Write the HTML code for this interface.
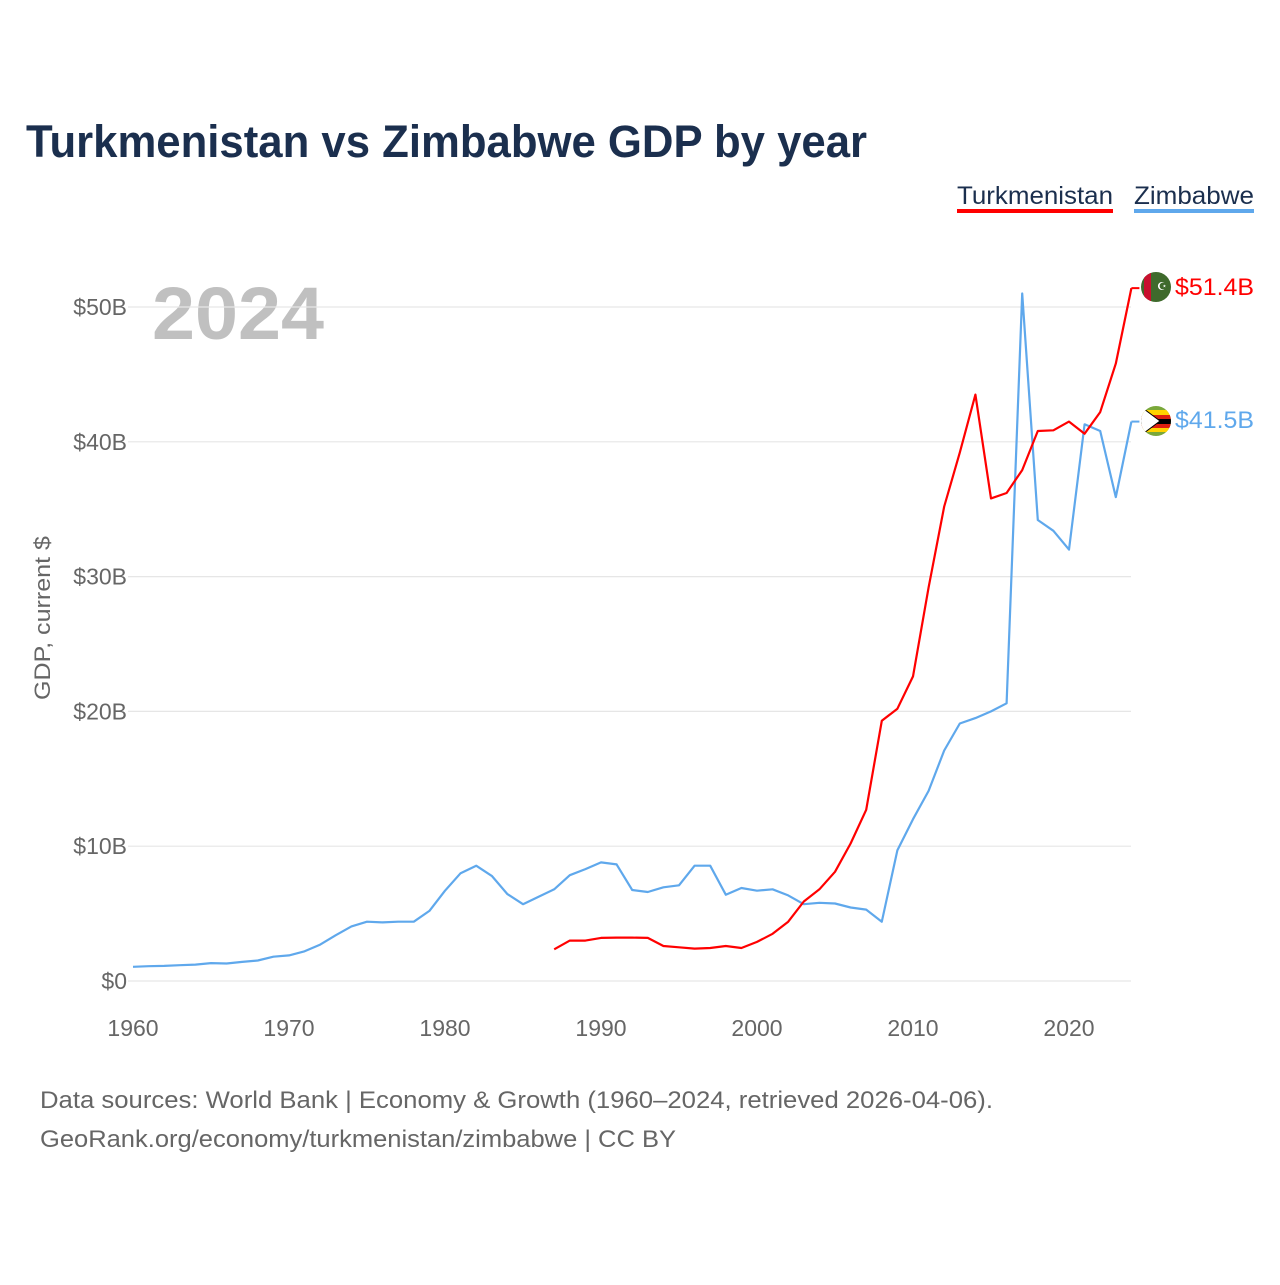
<!DOCTYPE html>
<html><head><meta charset="utf-8"><style>
body{margin:0;background:#fff;width:1280px;height:1280px;overflow:hidden;font-family:"Liberation Sans","DejaVu Sans",sans-serif}
</style></head><body>
<svg width="1280" height="1280" font-family="Liberation Sans, DejaVu Sans, sans-serif">
<text x="26" y="157" font-size="45" font-weight="bold" fill="#1b2f4e" textLength="841" lengthAdjust="spacingAndGlyphs">Turkmenistan vs Zimbabwe GDP by year</text>
<g><text x="957" y="204" font-size="25" fill="#1b2f4e" textLength="156" lengthAdjust="spacingAndGlyphs">Turkmenistan</text><rect x="957" y="209" width="156" height="4" fill="#ff0000"/></g>
<g><text x="1134" y="204" font-size="25" fill="#1b2f4e" textLength="120" lengthAdjust="spacingAndGlyphs">Zimbabwe</text><rect x="1134" y="209" width="120" height="4" fill="#5fa8ec"/></g>
<text x="152" y="339" font-size="74" font-weight="bold" fill="#c0c0c0" textLength="172" lengthAdjust="spacingAndGlyphs">2024</text>
<g id="grid"></g><g id="yt"></g><g id="xt"></g>
<text transform="translate(50,618) rotate(-90)" text-anchor="middle" font-size="22" fill="#666" textLength="164" lengthAdjust="spacingAndGlyphs">GDP, current $</text>
<g id="lines"></g>
<g><circle cx="1156" cy="287" r="15" fill="#3f6a2c"/><rect x="1144" y="273" width="7" height="28" fill="#c8102e" clip-path="circle(15px at 12px 14px)"/><text x="1157" y="290" font-size="11" fill="#fff">☪</text></g>
<g><clipPath id="zc"><circle cx="1156" cy="421" r="15"/></clipPath><g clip-path="url(#zc)"><rect x="1140" y="406" width="32" height="30" fill="#7aa83a"/><rect x="1140" y="410" width="32" height="5" fill="#ffd200"/><rect x="1140" y="415" width="32" height="4" fill="#de2010"/><rect x="1140" y="419" width="32" height="5" fill="#000"/><rect x="1140" y="424" width="32" height="4" fill="#de2010"/><rect x="1140" y="428" width="32" height="4" fill="#ffd200"/><polygon points="1140,406 1160,421 1140,436" fill="#fff" stroke="#000" stroke-width="1"/></g></g>
<text x="1175" y="295" font-size="24" fill="#ff0000" textLength="79" lengthAdjust="spacingAndGlyphs">$51.4B</text>
<text x="1175" y="428" font-size="24" fill="#5fa8ec" textLength="79" lengthAdjust="spacingAndGlyphs">$41.5B</text>
<text x="40" y="1108" font-size="24" fill="#666" textLength="953" lengthAdjust="spacingAndGlyphs">Data sources: World Bank | Economy &amp; Growth (1960–2024, retrieved 2026-04-06).</text>
<text x="40" y="1147" font-size="24" fill="#666" textLength="636" lengthAdjust="spacingAndGlyphs">GeoRank.org/economy/turkmenistan/zimbabwe | CC BY</text>
</svg>
<script>
const yTicks=[0,10,20,30,40,50];
const yTickLabels=["$0","$10B","$20B","$30B","$40B","$50B"];
const xTicks=[1960,1970,1980,1990,2000,2010,2020];
const zimYears=[1960,1961,1962,1963,1964,1965,1966,1967,1968,1969,1970,1971,1972,1973,1974,1975,1976,1977,1978,1979,1980,1981,1982,1983,1984,1985,1986,1987,1988,1989,1990,1991,1992,1993,1994,1995,1996,1997,1998,1999,2000,2001,2002,2003,2004,2005,2006,2007,2008,2009,2010,2011,2012,2013,2014,2015,2016,2017,2018,2019,2020,2021,2022,2023,2024];
const zimGdp=[1.05,1.1,1.12,1.17,1.22,1.33,1.3,1.42,1.52,1.8,1.9,2.2,2.7,3.4,4.05,4.4,4.35,4.4,4.4,5.2,6.7,8.0,8.55,7.8,6.45,5.7,6.25,6.8,7.85,8.3,8.8,8.65,6.75,6.6,6.95,7.1,8.55,8.55,6.4,6.9,6.7,6.8,6.35,5.7,5.8,5.75,5.45,5.3,4.4,9.7,12.0,14.1,17.1,19.1,19.5,20.0,20.6,51.0,34.2,33.4,32.0,41.3,40.8,35.9,41.5];
const tkmYears=[1987,1988,1989,1990,1991,1992,1993,1994,1995,1996,1997,1998,1999,2000,2001,2002,2003,2004,2005,2006,2007,2008,2009,2010,2011,2012,2013,2014,2015,2016,2017,2018,2019,2020,2021,2022,2023,2024];
const tkmGdp=[2.35,3.0,3.0,3.2,3.22,3.22,3.2,2.6,2.5,2.4,2.45,2.6,2.45,2.9,3.5,4.4,5.9,6.8,8.1,10.2,12.7,19.3,20.2,22.6,29.2,35.2,39.2,43.5,35.8,36.2,37.9,40.8,40.85,41.5,40.6,42.2,45.8,51.4];
const X=y=>133+(y-1960)*15.6;
const Y=v=>981-v*13.48;
const NS="http://www.w3.org/2000/svg";
function mk(t,a,p){const e=document.createElementNS(NS,t);for(const k in a)e.setAttribute(k,a[k]);p.appendChild(e);return e;}
const grid=document.getElementById('grid'),yt=document.getElementById('yt'),xt=document.getElementById('xt'),lines=document.getElementById('lines');
yTicks.forEach((v,i)=>{
 const l=mk('line',{x1:128,x2:1131,y1:Y(v),y2:Y(v),stroke:'#e6e6e6','stroke-width':1.2},grid);
 
 
 const t=mk('text',{x:127,y:Y(v)+8,'text-anchor':'end','font-size':23,fill:'#666'},yt);
 t.textContent=yTickLabels[i];
 
 
});
xTicks.forEach(v=>{
 const t=mk('text',{x:X(v),y:1036,'text-anchor':'middle','font-size':23,fill:'#666'},xt);
 t.textContent=v;
 
 
});
function line(xs,vs,c,name){
 const d=xs.map((y,i)=>(i?'L':'M')+X(y).toFixed(1)+','+Y(vs[i]).toFixed(1)).join('');
 const p=mk('path',{d:d,fill:'none',stroke:c,'stroke-width':2.2,'stroke-linejoin':'round'},lines);
 
 
 const lx=X(xs[xs.length-1]),ly=Y(vs[vs.length-1]);
 const s=mk('line',{x1:lx,x2:lx+8,y1:ly,y2:ly,stroke:c,'stroke-width':2},lines);
 
 
}
line(zimYears,zimGdp,'#5fa8ec','zimbabwe-line');
line(tkmYears,tkmGdp,'#ff0000','turkmenistan-line');
</script>
</body></html>
